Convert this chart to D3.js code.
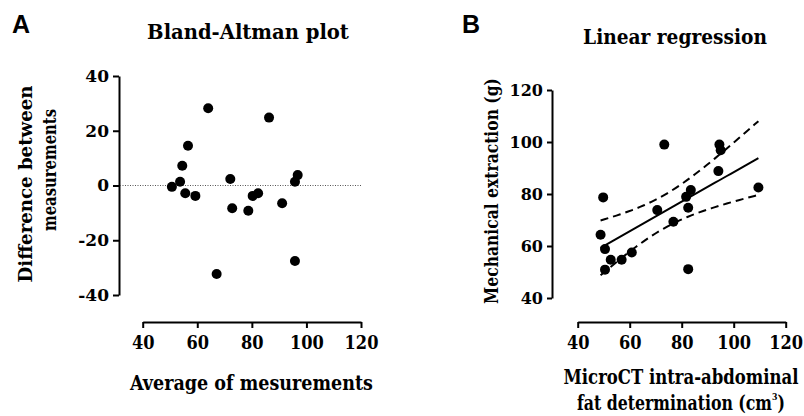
<!DOCTYPE html>
<html>
<head>
<meta charset="utf-8">
<script src="https://cdn.jsdelivr.net/npm/d3@7"></script>
<style>
  body { margin: 0; background: #fff; }
  svg { display: block; }
</style>
</head>
<body>
<svg id="chart"></svg>
<script>
// Panel A - Bland-Altman
const avgValues = [50.7, 53.7, 54.5, 56.6, 55.6, 59.3, 64.0, 67.1, 72.1, 72.8, 78.7, 80.3, 82.3, 86.3, 91.1, 95.8, 96.8, 95.8];
const diffValues = [-0.5, 1.4, 7.2, 14.5, -2.8, -3.8, 28.2, -32.3, 2.4, -8.3, -9.2, -3.8, -2.8, 24.8, -6.5, 1.4, 3.8, -27.6];
const ticksAX = [40, 60, 80, 100, 120];
const ticksAY = [-40, -20, 0, 20, 40];

// Panel B - linear regression
const microCT = [49.8, 48.8, 50.5, 52.7, 50.5, 56.9, 60.8, 73.3, 70.6, 76.8, 81.7, 83.5, 82.5, 82.5, 94.1, 94.5, 95.0, 109.5];
const mechanical = [78.7, 64.3, 58.8, 54.7, 50.9, 54.7, 57.5, 99.0, 73.8, 69.3, 78.9, 81.5, 74.7, 51.1, 88.8, 99.0, 96.8, 82.5];
const ticksBX = [40, 60, 80, 100, 120];
const ticksBY = [40, 60, 80, 100, 120];

const width = 804, height = 416;
const serif = "'DejaVu Serif', serif";
const serifCond = "'DejaVu Serif Condensed', 'DejaVu Serif', serif";

const svg = d3.select("#chart")
    .attr("width", width)
    .attr("height", height);

svg.append("rect").attr("width", width).attr("height", height).attr("fill", "#fff");

// squeeze a text element to a target width around a point
function fitText(t, cx, cy, w, rot) {
    const len = t.node().getComputedTextLength();
    t.attr("x", 0).attr("y", 0)
        .attr("text-anchor", "middle")
        .attr("transform", `translate(${cx},${cy}) rotate(${rot || 0}) scale(${w / len},1)`);
    return t;
}

function label(txt, size, family) {
    return svg.append("text")
        .attr("font-family", family || serif)
        .attr("font-weight", "bold")
        .attr("font-size", size)
        .attr("fill", "#000")
        .text(txt);
}

function styleAxis(g, family, size) {
    g.selectAll("path.domain").attr("stroke", "#000").attr("stroke-width", 2);
    g.selectAll(".tick line").attr("stroke", "#000").attr("stroke-width", 2);
    g.selectAll(".tick text")
        .attr("font-family", family)
        .attr("font-weight", "bold")
        .attr("font-size", size)
        .attr("fill", "#000");
}

const plain = d => String(d); // hyphen minus like the original

// ---------- Panel A ----------
const xA = d3.scaleLinear().domain([40, 120]).range([142.7, 361]);
const yA = d3.scaleLinear().domain([-40, 40]).range([295, 76]);

svg.append("g")
    .attr("transform", "translate(0,322)")
    .call(d3.axisBottom(xA).tickValues(ticksAX).tickFormat(plain).tickSize(6).tickSizeOuter(0).tickPadding(8))
    .call(g => styleAxis(g, serifCond, 18));

svg.append("g")
    .attr("transform", "translate(119,0)")
    .call(d3.axisLeft(yA).tickValues(ticksAY).tickFormat(plain).tickSize(6).tickSizeOuter(0).tickPadding(4))
    .call(g => styleAxis(g, serif, 17));

// zero line
svg.append("line")
    .attr("x1", 120).attr("x2", xA(120))
    .attr("y1", yA(0)).attr("y2", yA(0))
    .attr("stroke", "#555")
    .attr("stroke-width", 1)
    .attr("stroke-dasharray", "1,1.5");

svg.append("g")
    .selectAll("circle")
    .data(avgValues)
    .enter()
    .append("circle")
    .attr("cx", d => xA(d))
    .attr("cy", (d, i) => yA(diffValues[i]))
    .attr("r", 5)
    .attr("fill", "#000");

// ---------- Panel B ----------
const xB = d3.scaleLinear().domain([40, 120]).range([577.7, 785.7]);
const yB = d3.scaleLinear().domain([40, 120]).range([298, 90]);

svg.append("g")
    .attr("transform", "translate(0,322)")
    .call(d3.axisBottom(xB).tickValues(ticksBX).tickFormat(plain).tickSize(6).tickSizeOuter(0).tickPadding(8))
    .call(g => styleAxis(g, serifCond, 18));

svg.append("g")
    .attr("transform", "translate(552,0)")
    .call(d3.axisLeft(yB).tickValues(ticksBY).tickFormat(plain).tickSize(5).tickSizeOuter(0).tickPadding(4))
    .call(g => styleAxis(g, serif, 16));

// least squares fit with 95% confidence band
const n = microCT.length;
const mx = d3.mean(microCT), my = d3.mean(mechanical);
const sxx = d3.sum(microCT, d => (d - mx) ** 2);
const sxy = d3.sum(microCT, (d, i) => (d - mx) * (mechanical[i] - my));
const slope = sxy / sxx, intercept = my - slope * mx;
const sse = d3.sum(microCT, (d, i) => (mechanical[i] - (intercept + slope * d)) ** 2);
const se = Math.sqrt(sse / (n - 2));
const tCrit = 2.12; // df = 16
const [xmin, xmax] = d3.extent(microCT);
const band = d3.range(0, 41).map(k => {
    const x = xmin + (xmax - xmin) * k / 40;
    const fit = intercept + slope * x;
    const h = tCrit * se * Math.sqrt(1 / n + (x - mx) ** 2 / sxx);
    return { x, fit, lo: fit - h, hi: fit + h };
});

const line = key => d3.line().x(d => xB(d.x)).y(d => yB(d[key]));

svg.append("path").datum(band)
    .attr("fill", "none").attr("stroke", "#000").attr("stroke-width", 2)
    .attr("d", line("fit"));

["lo", "hi"].forEach(k => {
    svg.append("path").datum(band)
        .attr("fill", "none").attr("stroke", "#000").attr("stroke-width", 2)
        .attr("stroke-dasharray", "8,5")
        .attr("d", line(k));
});

svg.append("g")
    .selectAll("circle")
    .data(microCT)
    .enter()
    .append("circle")
    .attr("cx", d => xB(d))
    .attr("cy", (d, i) => yB(mechanical[i]))
    .attr("r", 5)
    .attr("fill", "#000");

// ---------- Text ----------
label("A", 25, "'Liberation Sans', Arial, sans-serif").attr("x", 12).attr("y", 33);
label("B", 25, "'Liberation Sans', Arial, sans-serif").attr("x", 462).attr("y", 33);

fitText(label("Bland-Altman plot", 20), 248, 39, 202);
fitText(label("Linear regression", 20), 675, 44, 184);

fitText(label("Difference between", 18), 32, 184, 197, -90);
fitText(label("measurements", 18), 56, 170, 122, -90);
fitText(label("Mechanical extraction (g)", 18), 498, 191, 226, -90);

fitText(label("Average of mesurements", 20, serifCond), 251.5, 390, 243);
fitText(label("MicroCT intra-abdominal", 20, serifCond), 681, 384, 235);

const l2 = label("", 20, serifCond);
l2.append("tspan").text("fat determination (cm");
l2.append("tspan").attr("font-size", 10).attr("dy", -10).text("3");
l2.append("tspan").attr("dy", 10).text(")");
fitText(l2, 681, 410, 208);
</script>
</body>
</html>
